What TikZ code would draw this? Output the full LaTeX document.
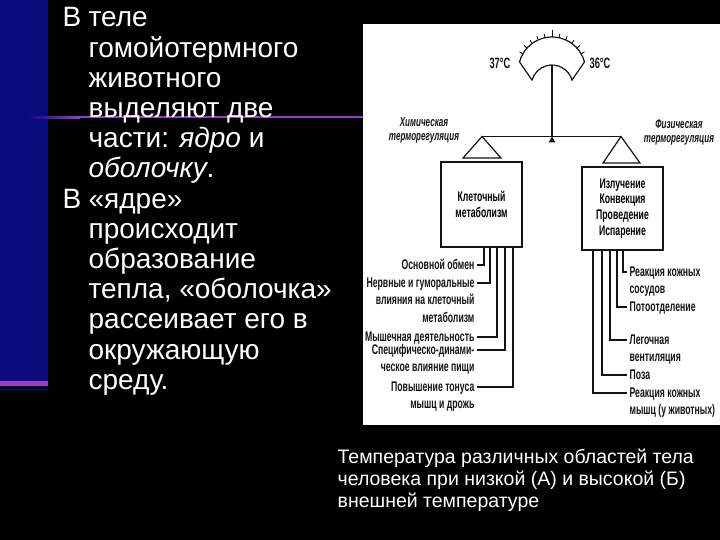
\documentclass[tikz,border=0pt]{standalone}
\usepackage{fontspec}
\setmainfont{Liberation Sans}
\newfontfamily\scanfont[FakeStretch=0.62]{Liberation Sans}
\usetikzlibrary{positioning, calc}
\definecolor{cnavy}{HTML}{0A0A7C}
\definecolor{cviolet}{HTML}{9A3CC8}
\definecolor{cink}{HTML}{141414}
% lines set in a block whose base is the first line
\newcommand\llines[1]{\begin{tabular}[t]{@{}l@{}}#1\end{tabular}}
\newcommand\rlines[1]{\begin{tabular}[t]{@{}r@{}}#1\end{tabular}}
\tikzset{
  every picture/.style={line width=1.3pt},
  slide/.style={text=white, inner sep=0pt, anchor=base west, font=\fontsize{28}{30.2}\selectfont},
  capt/.style={text=white, inner sep=0pt, anchor=base west, font=\fontsize{19.5}{22}\selectfont},
  box/.style={draw=cink, fill=white, align=center, inner sep=2pt, minimum width=81pt, line width=1.6pt,
    font=\scanfont\bfseries\fontsize{14}{15.8}\selectfont},
  lbl/.style={text=cink, inner sep=0pt, font=\scanfont\bfseries\fontsize{14}{17.8}\selectfont},
  head/.style={text=cink, inner sep=0pt, align=center, font=\scanfont\bfseries\itshape\fontsize{13}{14}\selectfont},
  wire/.style={draw=cink, line width=1.2pt},
}

\begin{document}
\begin{tikzpicture}[x=1pt, y=-1pt]
  \fill[black] (0,0) rectangle (720,540);
  \useasboundingbox (0,0) rectangle (720,540);
  % ---------- slide frame ----------
  \fill[cnavy] (0,0) rectangle (48,381);
  \fill[cviolet] (0,381) rectangle (48,386);
  \fill[cnavy!60!black] (0,388) rectangle (48,391);
  \shade[left color=cnavy, right color=cviolet] (28,116.5) rectangle (80,118.5);
  \fill[cviolet] (80,116.5) rectangle (363,118.5);
  \fill[white] (363,24) rectangle (720,425);
  % ---------- left text ----------
  \node[slide] (b1) at (62,27) {В};
  \node[slide] (p1) at (88,27) {\llines{теле\\гомойотермного\\животного\\выделяют две\\части: \textit{ядро} и\\\textit{оболочку}.}};
  \node[slide] (b2) at (62,208) {В};
  \node[slide] (p2) at (88,208) {\llines{«ядре»\\происходит\\образование\\тепла, «оболочка»\\рассеивает его в\\окружающую\\среду.}};
  % ---------- gauge ----------
  \coordinate (gc) at (552,70.6);
  \draw[wire] (gc) ++(-165:33.6) arc[start angle=-165, end angle=-15, radius=33.6]
    -- ($(552,85.8)+(-16:20.8)$) arc[start angle=-16, end angle=-164, radius=20.8] -- cycle;
  \foreach \a in {-150,-138,...,-30}
    \draw[wire, line width=0.9pt] ($(gc)+(\a:33.6)$) -- ($(gc)+(\a:37.5)$);
  \draw[wire, line width=0.9pt] ($(gc)+(-90:33.6)$) -- ($(gc)+(-90:41)$);
  \node[lbl, anchor=east, font=\scanfont\bfseries\fontsize{15}{16}\selectfont] (t37) at (511,63) {37°C};
  \node[lbl, anchor=west, font=\scanfont\bfseries\fontsize{15}{16}\selectfont] (t36) at (589,63) {36°C};
  % ---------- beam and pans ----------
  \coordinate (needle) at (552,65);
  \coordinate (pivot) at (552,136.5);
  \coordinate (bl) at (482,136.5);
  \coordinate (br) at (621,136.5);
  \draw[wire] (needle) -- (pivot);
  \fill[cink] (pivot) -- ++(-3.5,6) -- ++(7,0) -- cycle;
  \draw[wire] (bl) -- (br);
  \draw[wire, line join=miter] (bl) -- (463,158) -- (501,158) -- cycle;
  \draw[wire, line join=miter] (br) -- (603,163) -- (640,163) -- cycle;
  \node[head] (chem) at (424,130) {Химическая\\терморегуляция};
  \node[head] (phys) at (679,132) {Физическая\\терморегуляция};
  % ---------- boxes ----------
  \node[box, minimum height=85pt] (cell) at (481.5,204.5) {Клеточный\\метаболизм};
  \node[box, minimum height=83pt] (loss) at (622.5,208.5) {Излучение\\Конвекция\\Проведение\\Испарение};
  % ---------- heat production ----------
  \foreach \yy/\xx/\txt [count=\i] in {
      269/484/{Основной обмен},
      287/490/{Нервные и гуморальные\\влияния на клеточный\\метаболизм},
      341/497/{Мышечная деятельность},
      354/505/{Специфическо-динами-\\ческое влияние пищи},
      391/513/{Повышение тонуса\\мышц и дрожь}} {
    \node[lbl, anchor=base east] (gen\i) at (475,\yy) {\rlines{\txt}};
    \coordinate (gx\i) at (\xx,0);
    \draw[wire] ([xshift=2pt,yshift=4pt]gen\i.base east) -| (cell.south -| gx\i);
  }
  % ---------- heat loss ----------
  \foreach \yy/\xx/\txt [count=\i] in {
      276/623/{Реакция кожных\\сосудов},
      311/617/{Потоотделение},
      344/610/{Легочная\\вентиляция},
      379/602/{Поза},
      397/593/{Реакция кожных\\мышц (у животных)}} {
    \node[lbl, anchor=base west] (out\i) at (629,\yy) {\llines{\txt}};
    \coordinate (ox\i) at (\xx,0);
    \draw[wire] (loss.south -| ox\i) |- ([xshift=-2pt,yshift=4pt]out\i.base west);
  }
  % ---------- caption ----------
  \node[capt] (note) at (337,463) {\llines{Температура различных областей тела\\человека при низкой (А) и высокой (Б)\\внешней температуре}};
\end{tikzpicture}
\end{document}
